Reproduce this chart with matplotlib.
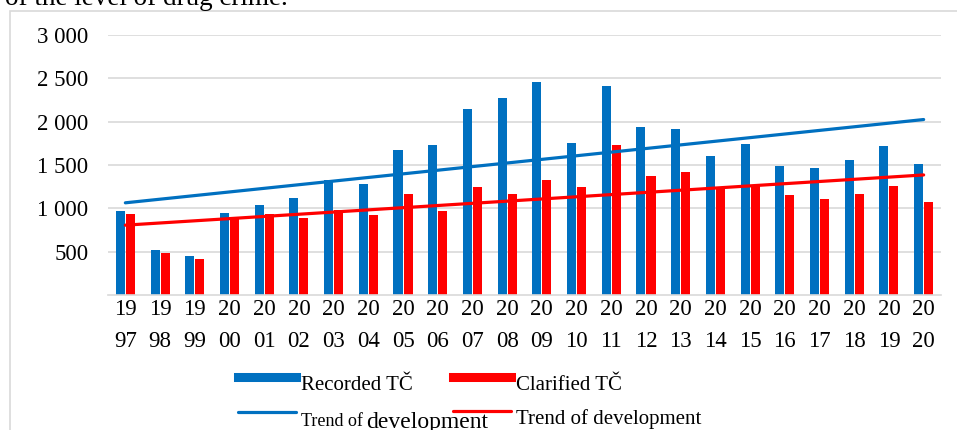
import matplotlib.pyplot as plt
import numpy as np
from matplotlib.lines import Line2D
from matplotlib.patches import Rectangle

years = list(range(1997, 2021))
recorded = [966, 517, 448, 943, 1034, 1115, 1322, 1276, 1678, 1736, 2149, 2276,
            2460, 1759, 2414, 1943, 1920, 1609, 1747, 1483, 1471, 1563, 1724, 1506]
clarified = [931, 483, 414, 900, 930, 889, 977, 920, 1161, 966, 1241, 1161,
             1322, 1241, 1736, 1368, 1414, 1240, 1264, 1149, 1103, 1161, 1253, 1069]
y_ticks = [500, 1000, 1500, 2000, 2500, 3000]

BLUE = "#0070C0"
RED = "#FF0000"
GRID = "#d9d9d9"
W, H = 957, 430

plt.rcParams["font.family"] = ["Liberation Serif", "DejaVu Serif"]
plt.rcParams["font.size"] = 15

fig = plt.figure(figsize=(W / 100, H / 100), dpi=100)
ax = fig.add_axes([108 / W, 1 - 295 / H, (941 - 108) / W, (295 - 35) / H])

def fx(px):
    return px / W

def fy(py):
    return 1 - py / H

# bars
x = np.arange(len(years))
bw = 0.26
off = 0.145
ax.bar(x - off, recorded, bw, color=BLUE, zorder=2)
ax.bar(x + off, clarified, bw, color=RED, zorder=2)

# linear trends, like excel
for vals, col in [(recorded, BLUE), (clarified, RED)]:
    k, q = np.polyfit(x, vals, 1)
    ax.plot([x[0], x[-1]], [q, q + k * x[-1]], color=col, lw=2.3, zorder=3,
            solid_capstyle="round")

ax.set_xlim(-0.5, len(years) - 0.5)
ax.set_ylim(0, 3000)
ax.set_yticks(y_ticks)
ax.set_yticklabels([f"{v:,}".replace(",", " ") for v in y_ticks], fontsize=16.5)
ax.set_xticks(x)
ax.set_xticklabels([f"{str(y)[:2]}\n{str(y)[2:]}" for y in years], fontsize=16.5,
                   linespacing=1.65)
ax.tick_params(axis="y", length=0, pad=14)
ax.tick_params(axis="x", length=0, pad=3)
ax.grid(axis="y", color=GRID, lw=1.2, zorder=0)
for s in ["top", "right", "left"]:
    ax.spines[s].set_visible(False)
ax.spines["bottom"].set_color(GRID)
ax.spines["bottom"].set_linewidth(1.2)

# outer frame of the chart
fig.add_artist(Rectangle((fx(10), fy(500)), 1.2, fy(11) - fy(500), transform=fig.transFigure,
                         fill=False, edgecolor=GRID, lw=1.2))

# text of the page cut off above the chart
fig.text(fx(5), fy(5), "of the level of drug crime.", fontsize=19.5, va="baseline")

# legend, drawn by hand
fig.add_artist(Line2D([fx(238), fx(296)], [fy(377), fy(377)], color=BLUE, lw=6.5,
                      transform=fig.transFigure))
fig.add_artist(Line2D([fx(453), fx(511)], [fy(377), fy(377)], color=RED, lw=6.5,
                      transform=fig.transFigure))
fig.text(fx(301), fy(390), "Recorded TČ", va="baseline")
fig.text(fx(516), fy(390), "Clarified TČ", va="baseline")
fig.add_artist(Line2D([fx(238), fx(296)], [fy(411.5), fy(411.5)], color=BLUE, lw=2.3,
                      transform=fig.transFigure, solid_capstyle="round"))
fig.add_artist(Line2D([fx(453), fx(511)], [fy(411), fy(411)], color=RED, lw=2.3,
                      transform=fig.transFigure, solid_capstyle="round"))
fig.text(fx(301), fy(426), "Trend of", fontsize=13, va="baseline")
fig.text(fx(366), fy(428), "development", fontsize=17, va="baseline")
fig.text(fx(516), fy(424), "Trend of development", va="baseline")

fig.savefig("out.png", dpi=100)
